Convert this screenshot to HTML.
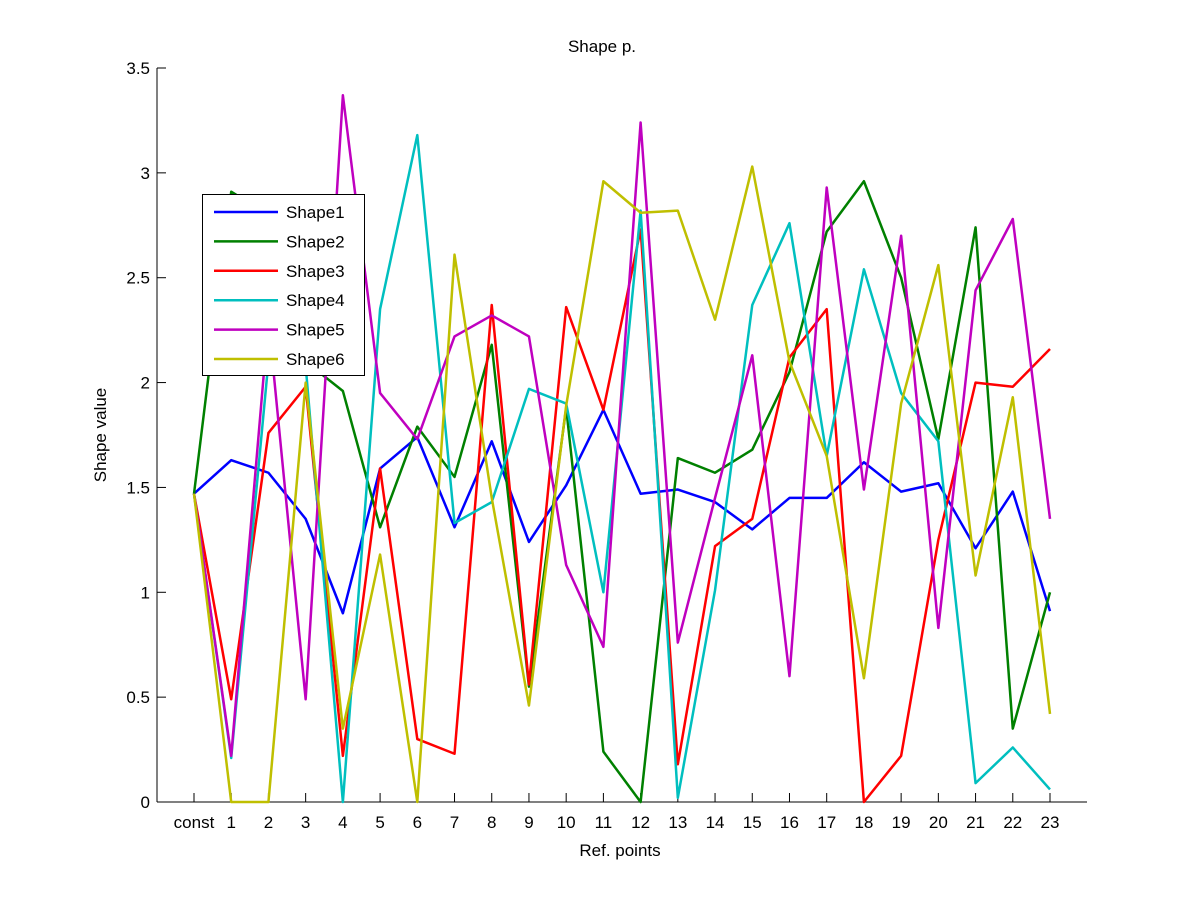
<!DOCTYPE html>
<html><head><style>body{margin:0;background:#fff}svg{display:block}text{font-family:"Liberation Sans",sans-serif;fill:#000}</style></head>
<body>
<svg id="s" width="1201" height="901" xmlns="http://www.w3.org/2000/svg">
<rect width="1201" height="901" fill="#fff"/>
<g id="g"></g>
</svg>
<script>
const L=157,R=1087,T=68,B=802;
const X=i=>194+i*(1050-194)/23, Y=v=>B-v*(B-T)/3.5;
const data=[
["#0000ff",[1.47,1.63,1.57,1.35,0.90,1.59,1.74,1.31,1.72,1.24,1.51,1.87,1.47,1.49,1.43,1.30,1.45,1.45,1.62,1.48,1.52,1.21,1.48,0.91]],
["#008000",[1.47,2.91,2.8,2.1,1.96,1.31,1.79,1.55,2.18,0.55,1.88,0.24,0.0,1.64,1.57,1.68,2.05,2.72,2.96,2.5,1.73,2.74,0.35,1.0]],
["#ff0000",[1.47,0.49,1.76,1.98,0.22,1.59,0.30,0.23,2.37,0.56,2.36,1.87,2.73,0.18,1.22,1.35,2.12,2.35,0.0,0.22,1.25,2.0,1.98,2.16]],
["#00bfbf",[1.47,0.21,2.1,2.08,0.0,2.35,3.18,1.33,1.43,1.97,1.9,1.0,2.82,0.02,1.01,2.37,2.76,1.65,2.54,1.95,1.72,0.09,0.26,0.06]],
["#bf00bf",[1.47,0.22,2.3,0.49,3.37,1.95,1.73,2.22,2.32,2.22,1.13,0.74,3.24,0.76,1.45,2.13,0.60,2.93,1.49,2.70,0.83,2.44,2.78,1.35]],
["#bfbf00",[1.47,0.0,0.0,2.0,0.35,1.18,0.0,2.61,1.45,0.46,1.89,2.96,2.81,2.82,2.30,3.03,2.1,1.65,0.59,1.9,2.56,1.08,1.93,0.42]]];
let h=`<line x1="${L}" x2="${L}" y1="${T}" y2="${B}" stroke="#000"/><line x1="${L}" x2="${R}" y1="${B}" y2="${B}" stroke="#000"/>`;
for(let i=0;i<=7;i++){const y=Y(i*0.5);h+=`<line x1="${L}" x2="${L+9}" y1="${y}" y2="${y}" stroke="#000"/><text x="150" y="${y+6}" font-size="17" text-anchor="end">${i==0?0:(i*0.5).toString()}</text>`;}
for(let i=0;i<24;i++){const x=X(i);h+=`<line x1="${x}" x2="${x}" y1="${B}" y2="${B-9}" stroke="#000"/><text x="${x}" y="828" font-size="17" text-anchor="middle">${i==0?'const':i}</text>`;}
data.forEach(([c,d])=>{h+=`<polyline fill="none" stroke="${c}" stroke-width="2.5" stroke-linejoin="round" points="${d.map((v,i)=>X(i)+','+Y(v)).join(' ')}"/>`;});
h+=`<rect x="202.5" y="194.5" width="162" height="181" fill="#fff" stroke="#000"/>`;
data.forEach(([c],k)=>{const y=212+k*29.4;h+=`<line x1="214" x2="278" y1="${y}" y2="${y}" stroke="${c}" stroke-width="2.5"/><text x="286" y="${y+6}" font-size="17">Shape${k+1}</text>`;});
h+=`<text x="602" y="52" font-size="17" text-anchor="middle">Shape p.</text><text x="620" y="856" font-size="17" text-anchor="middle">Ref. points</text><text transform="translate(106,435) rotate(-90)" font-size="17" text-anchor="middle">Shape value</text>`;
document.getElementById('g').innerHTML=h;
</script>
</body></html>
